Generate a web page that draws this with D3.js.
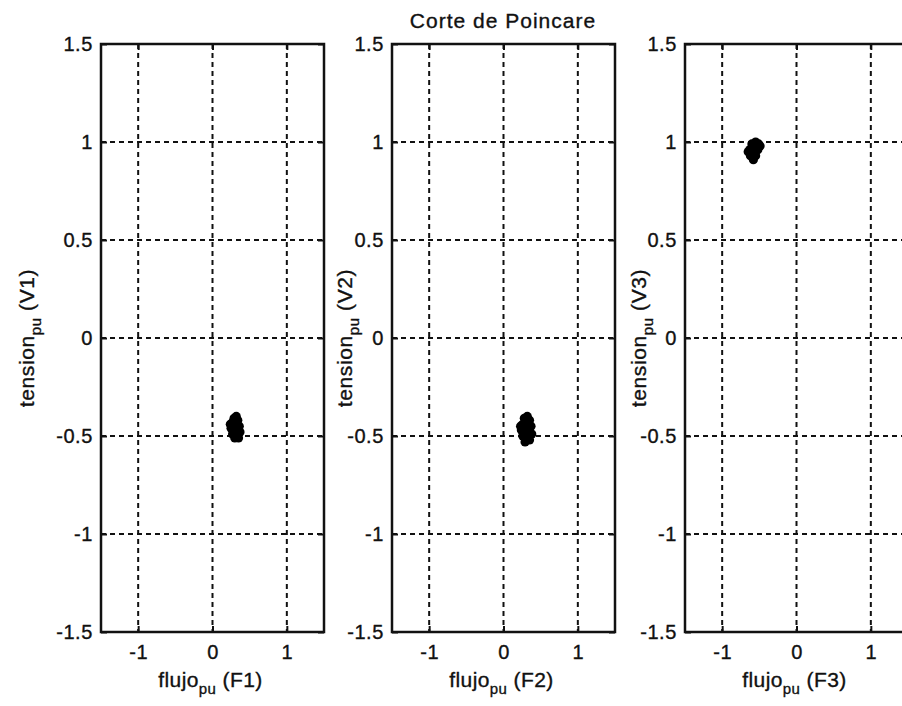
<!DOCTYPE html>
<html>
<head>
<meta charset="utf-8">
<script src="https://cdn.jsdelivr.net/npm/d3@7/dist/d3.min.js"></script>
<style>
  html, body { margin: 0; padding: 0; background: #fff; }
  svg { display: block; font-family: "Liberation Sans", Arial, sans-serif; }
  text { fill: #111; stroke: #111; stroke-width: 0.35px; }
</style>
</head>
<body>
<svg id="chart" width="902" height="706"></svg>
<script>
// Poincaré section of each phase: flux (x) vs voltage (y), per-unit
const title = "Corte de Poincare";
const fluxNames = ["F1", "F2", "F3"];
const voltNames = ["V1", "V2", "V3"];
const xTicks = [-1, 0, 1];
const yTicks = [-1.5, -1, -0.5, 0, 0.5, 1, 1.5];
const xDomain = [-1.5, 1.5];
const yDomain = [-1.5, 1.5];

// Section points (flujo, tension) for each phase
const pointsF1 = [
  [0.29, -0.41], [0.32, -0.40], [0.34, -0.42], [0.27, -0.43], [0.30, -0.44],
  [0.36, -0.45], [0.25, -0.46], [0.29, -0.47], [0.33, -0.48], [0.27, -0.49],
  [0.31, -0.50], [0.37, -0.48], [0.24, -0.44], [0.30, -0.51], [0.35, -0.51],
  [0.32, -0.46], [0.28, -0.45]
];
const pointsF2 = [
  [0.28, -0.41], [0.32, -0.40], [0.35, -0.42], [0.26, -0.44], [0.30, -0.45],
  [0.37, -0.45], [0.24, -0.47], [0.29, -0.48], [0.34, -0.48], [0.26, -0.50],
  [0.31, -0.51], [0.38, -0.49], [0.23, -0.45], [0.29, -0.53], [0.35, -0.52],
  [0.32, -0.44], [0.27, -0.47]
];
const pointsF3 = [
  [-0.55, 1.00], [-0.51, 0.99], [-0.60, 0.99], [-0.57, 0.97], [-0.52, 0.96],
  [-0.63, 0.96], [-0.59, 0.94], [-0.55, 0.93], [-0.62, 0.93], [-0.58, 0.91],
  [-0.49, 0.98], [-0.65, 0.95], [-0.56, 0.96]
];
const series = [pointsF1, pointsF2, pointsF3];

// Layout of the three axes boxes and their y-label baselines
const boxes = [
  { left: 101, right: 324, labelX: 34 },
  { left: 392, right: 615, labelX: 352 },
  { left: 685, right: 908, labelX: 646 }
];
const plotTop = 44, plotBottom = 632;
const tickFont = "20px", labelFont = "21px", subFont = "15px";

const svg = d3.select("#chart");
svg.append("rect").attr("width", 902).attr("height", 706).attr("fill", "#fff");

const y = d3.scaleLinear().domain(yDomain).range([plotBottom, plotTop]);

boxes.forEach((b, i) => {
  const x = d3.scaleLinear().domain(xDomain).range([b.left, b.right]);
  const g = svg.append("g");

  // dotted grid
  g.selectAll("line.gx").data(xTicks).join("line")
    .attr("x1", d => x(d)).attr("x2", d => x(d))
    .attr("y1", plotTop).attr("y2", plotBottom)
    .attr("stroke", "#111").attr("stroke-width", 2)
    .attr("stroke-dasharray", "5,4");
  g.selectAll("line.gy").data(yTicks.filter(d => d > yDomain[0] && d < yDomain[1])).join("line")
    .attr("x1", b.left).attr("x2", b.right)
    .attr("y1", d => y(d)).attr("y2", d => y(d))
    .attr("stroke", "#111").attr("stroke-width", 2)
    .attr("stroke-dasharray", "5,4");

  // axes with inward ticks on all four sides
  const xAxis = d3.axisBottom(x).tickValues(xTicks).tickSize(-6).tickPadding(13)
    .tickFormat(d => String(d));
  const yAxis = d3.axisLeft(y).tickValues(yTicks).tickSize(-6).tickPadding(8)
    .tickFormat(d => String(d));
  const xa = g.append("g").attr("transform", `translate(0,${plotBottom})`).call(xAxis);
  const ya = g.append("g").attr("transform", `translate(${b.left},0)`).call(yAxis);
  const xt = g.append("g").attr("transform", `translate(0,${plotTop})`)
    .call(d3.axisTop(x).tickValues(xTicks).tickSize(-6).tickFormat(""));
  const yr = g.append("g").attr("transform", `translate(${b.right},0)`)
    .call(d3.axisRight(y).tickValues(yTicks).tickSize(-6).tickFormat(""));
  [xa, ya, xt, yr].forEach(a => {
    a.select(".domain").remove();
    a.selectAll(".tick line").attr("stroke", "#111").attr("stroke-width", 2);
    a.selectAll(".tick text").attr("fill", "#111")
      .style("font-size", tickFont).style("letter-spacing", "0.6px")
      .style("font-family", "'Liberation Sans', Arial, sans-serif");
  });

  // box
  g.append("rect")
    .attr("x", b.left).attr("y", plotTop)
    .attr("width", b.right - b.left).attr("height", plotBottom - plotTop)
    .attr("fill", "none").attr("stroke", "#111").attr("stroke-width", 2.5);

  // section points
  g.selectAll("circle").data(series[i]).join("circle")
    .attr("cx", d => x(d[0])).attr("cy", d => y(d[1]))
    .attr("r", 4.6).attr("fill", "#000");

  // x label with subscript
  const xl = g.append("text")
    .attr("x", x(0) - 2).attr("y", 687)
    .attr("text-anchor", "middle")
    .style("font-size", labelFont).style("letter-spacing", "0.4px");
  xl.append("tspan").text("flujo");
  xl.append("tspan").attr("dy", 7).style("font-size", subFont).text("pu");
  xl.append("tspan").attr("dy", -7).text(` (${fluxNames[i]})`);

  // y label with subscript, rotated
  const yl = g.append("text")
    .attr("transform", `translate(${b.labelX},${y(0)}) rotate(-90)`)
    .attr("text-anchor", "middle")
    .style("font-size", labelFont).style("letter-spacing", "0.6px");
  yl.append("tspan").text("tension");
  yl.append("tspan").attr("dy", 7).style("font-size", subFont).text("pu");
  yl.append("tspan").attr("dy", -7).text(` (${voltNames[i]})`);
});

svg.append("text")
  .attr("x", 503).attr("y", 28)
  .attr("text-anchor", "middle")
  .style("font-size", "21px").style("letter-spacing", "1px")
  .text(title);
</script>
</body>
</html>
